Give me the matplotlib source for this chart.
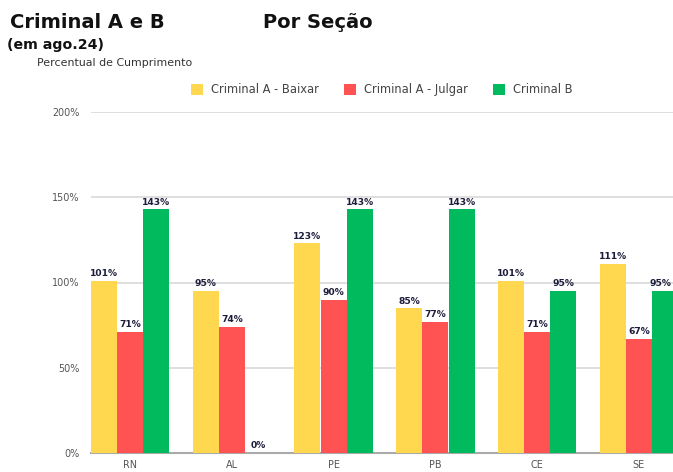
import matplotlib
matplotlib.use("Agg")
import matplotlib.pyplot as plt
import numpy as np

secoes = ["RN", "AL", "PE", "PB", "CE", "SE"]
series_names = ["Criminal A - Baixar", "Criminal A - Julgar", "Criminal B"]
baixar = [101, 95, 123, 85, 101, 111]
julgar = [71, 74, 90, 77, 71, 67]
crim_b = [143, 0, 143, 143, 95, 95]
colors = ["#FFD84F", "#FF5252", "#00BA5D"]
yticks = [0, 50, 100, 150, 200]

plt.rcParams["font.family"] = ["DejaVu Sans"]

W, H = 673, 472
fig = plt.figure(figsize=(W / 100, H / 100), dpi=100)

# axes in pixel coords: x 91..678 (cropped at right like the source), y 112..453
ax = fig.add_axes([91 / W, 1 - 453 / H, (678 - 91) / W, (453 - 112) / H])

x = np.arange(len(secoes))
bw = 0.255
for i, (vals, c) in enumerate(zip([baixar, julgar, crim_b], colors)):
    pos = x + (i - 1) * (bw + 0.003)
    ax.bar(pos, vals, width=bw, color=c, zorder=3, label=series_names[i])
    for px, v in zip(pos, vals):
        # keep the last label inside the figure edge
        if px > x[-1] + 0.2:
            ax.text(px + bw * 0.25, v + 1.5, f"{v}%", ha="right", va="bottom",
                    fontsize=6.6, fontweight="bold", color="#1c1c3c", zorder=4)
        else:
            ax.text(px, v + 1.5, f"{v}%", ha="center", va="bottom", fontsize=6.6,
                    fontweight="bold", color="#1c1c3c", zorder=4)

ax.set_xlim(-0.385, 5.385)
ax.set_ylim(0, 200)
ax.set_yticks(yticks)
ax.set_yticklabels([f"{t}%" for t in yticks], fontsize=6.9, color="#555555")
ax.set_xticks(x)
ax.set_xticklabels(secoes, fontsize=6.9, color="#555555")
ax.tick_params(length=0, pad=8)
ax.tick_params(axis="x", pad=5)
ax.grid(axis="y", color="#d9d9d9", linewidth=1.2, zorder=0)
for s in ["top", "right", "left"]:
    ax.spines[s].set_visible(False)
ax.spines["bottom"].set_color("#aaaaaa")
ax.spines["bottom"].set_linewidth(1.5)

leg = fig.legend(loc="center left", bbox_to_anchor=(181 / W, 1 - 90 / H), ncol=3,
                 frameon=False, fontsize=8.3, handlelength=1.0, handleheight=1.0,
                 columnspacing=2.2, handletextpad=0.7)
for t in leg.get_texts():
    t.set_color("#444444")

fig.text(10 / W, 1 - 22 / H, "Criminal A e B", fontsize=14, fontweight="bold",
         color="#111111", va="center")
fig.text(263 / W, 1 - 22 / H, "Por Seção", fontsize=14, fontweight="bold",
         color="#111111", va="center")
fig.text(7 / W, 1 - 45 / H, "(em ago.24)", fontsize=10.2, fontweight="bold",
         color="#111111", va="center")
fig.text(37 / W, 1 - 63 / H, "Percentual de Cumprimento", fontsize=7.9,
         color="#333333", va="center")

fig.savefig("out.png", dpi=100)
